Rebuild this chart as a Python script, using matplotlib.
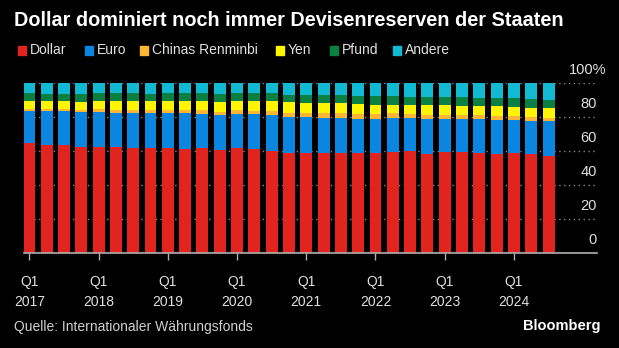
"""Dollar-Anteil an den Devisenreserven (IWF COFER), gestapelte Balken"""

import numpy as np
import matplotlib.pyplot as plt
from matplotlib.patches import Rectangle

# Quartale Q1 2017 .. Q3 2024
quarters = [f"Q{q}\n{y}" for y in range(2017, 2025) for q in range(1, 5)][:31]

dollar = [64.7, 63.7, 63.5, 62.7, 62.7, 62.4, 62.0, 61.8, 61.8, 61.2, 61.8, 60.8,
          61.8, 61.2, 60.4, 58.8, 59.2, 59.2, 59.2, 58.8, 58.8, 59.8, 60.2, 58.4,
          59.4, 59.4, 59.2, 58.4, 58.8, 58.2, 57.4]
euro = [19.2, 20.0, 20.2, 20.2, 20.6, 20.3, 20.7, 20.6, 20.6, 21.2, 20.2, 20.6,
        20.2, 20.6, 21.0, 21.6, 20.8, 20.6, 20.6, 20.4, 20.4, 19.6, 19.2, 20.4,
        19.6, 19.6, 19.6, 20.0, 19.6, 19.6, 20.1]
renminbi = [1.1, 1.1, 1.1, 1.2, 1.4, 1.8, 1.8, 1.9, 2.0, 2.0, 2.0, 1.9,
            2.0, 2.0, 2.1, 2.3, 2.5, 2.6, 2.7, 2.8, 2.9, 2.9, 2.8, 2.7,
            2.6, 2.5, 2.4, 2.3, 2.2, 2.1, 2.2]
yen = [4.6, 4.6, 4.5, 4.9, 4.8, 5.0, 5.0, 5.2, 5.3, 5.4, 5.6, 5.9,
       5.7, 5.8, 5.9, 6.0, 5.9, 5.8, 5.8, 5.6, 5.4, 5.2, 5.3, 5.5,
       5.4, 5.4, 5.5, 5.7, 5.7, 5.8, 5.8]
pfund = [4.4, 4.5, 4.5, 4.5, 4.6, 4.5, 4.5, 4.4, 4.4, 4.5, 4.5, 4.6,
         4.5, 4.6, 4.6, 4.7, 4.7, 4.7, 4.8, 4.8, 4.9, 4.9, 4.6, 4.9,
         4.9, 5.0, 4.9, 4.8, 4.9, 4.9, 4.9]
andere = list(100 - np.array(dollar) - np.array(euro) - np.array(renminbi)
              - np.array(yen) - np.array(pfund))

labels = ["Dollar", "Euro", "Chinas Renminbi", "Yen", "Pfund", "Andere"]
colors = ["#E1251E", "#0A85E0", "#FDB634", "#FFF500", "#0B8043", "#12B9D2"]
series = [dollar, euro, renminbi, yen, pfund, andere]

W, H = 619, 348
plt.rcParams['font.family'] = ['Liberation Sans', 'DejaVu Sans']

fig = plt.figure(figsize=(W / 100, H / 100), dpi=100, facecolor="black")
ax = fig.add_axes([24 / W, 1 - 253 / H, 573 / W, (253 - 83.3) / H])
ax.set_facecolor("black")

x = np.arange(len(dollar))
bottom = np.zeros(len(x))
for vals, color, lab in zip(series, colors, labels):
    ax.bar(x, vals, bottom=bottom, width=0.69, color=color, zorder=3, label=lab)
    bottom += np.array(vals)

ax.set_xlim(-0.31, 32.8)
ax.set_ylim(0, 100)

# gepunktete Gitterlinien
for v in [20, 40, 60, 80, 100]:
    ax.axhline(v, color="#8a8a8a", lw=1, ls=(0, (1, 2.5)), zorder=1)
ax.axhline(0, color="#b0b0b0", lw=1.2, zorder=4, clip_on=False)

for s in ax.spines.values():
    s.set_visible(False)
ax.set_yticks([])
ax.set_xticks(x[::4])
ax.set_xticklabels(quarters[::4], color="#e0e0e0", fontsize=10, linespacing=1.5)
ax.tick_params(axis="x", length=5, width=1, color="#b0b0b0", pad=11)

# Achsenbeschriftung rechts
ytf = ax.get_yaxis_transform()
for v in [0, 20, 40, 60, 80]:
    ax.annotate(str(v), xy=(1.0, v), xycoords=ytf, xytext=(0, 9.5),
                textcoords="offset points", ha="right", va="center",
                color="#e0e0e0", fontsize=10.5, annotation_clip=False)
ax.annotate("100%", xy=(1.0, 100), xycoords=ytf, xytext=(6.5, 9.5),
            textcoords="offset points", ha="right", va="center",
            color="#e0e0e0", fontsize=10.5, annotation_clip=False)

# Titel
fig.text(14 / W, 1 - 20 / H, "Dollar dominiert noch immer Devisenreserven der Staaten",
         color="white", fontsize=14.3, fontweight="bold", va="center", ha="left")

# Legende
legend_x = [18, 85, 140, 276, 330, 393]
for lx, lab, color in zip(legend_x, labels, colors):
    fig.patches.append(Rectangle((lx / W, 1 - 55 / H), 8 / W, 9 / H,
                                 transform=fig.transFigure, color=color))
    fig.text((lx + 12) / W, 1 - 50.5 / H, lab, color="#e0e0e0",
             fontsize=10, va="center", ha="left")

fig.text(14 / W, 1 - 327 / H, "Quelle: Internationaler Währungsfonds",
         color="#d0d0d0", fontsize=10, va="center", ha="left")
fig.text(600 / W, 1 - 326 / H, "Bloomberg", color="white", fontsize=10.5,
         fontweight="bold", va="center", ha="right")

fig.savefig("out.png", dpi=100, facecolor="black")
